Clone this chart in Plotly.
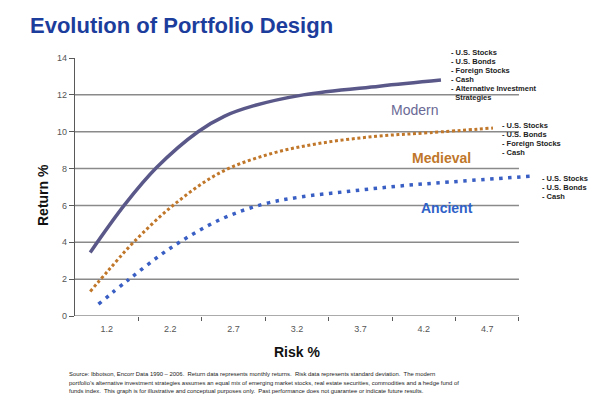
import plotly.graph_objects as go

# ---- data (x in category units: 0 = y-axis, each risk label occupies one unit) ----
risk_labels = ["1.2", "2.2", "2.7", "3.2", "3.7", "4.2", "4.7"]
label_pos = [0.5, 1.5, 2.5, 3.5, 4.5, 5.5, 6.5]
boundaries = [1, 2, 3, 4, 5, 6, 7]
return_ticks = [0, 2, 4, 6, 8, 10, 12, 14]
grid_levels = [2, 4, 6, 8, 10, 12]

modern_x = [0.24, 0.79, 1.29, 1.94, 2.36, 2.81, 3.6, 4.8, 5.77]
modern_y = [3.45, 6.07, 8.07, 10.0, 10.85, 11.4, 12.0, 12.47, 12.8]

medieval_x = [0.24, 0.52, 0.92, 1.57, 2.3, 3.07, 3.86, 4.75, 5.6, 6.59]
medieval_y = [1.33, 2.45, 3.99, 6.07, 7.8, 8.79, 9.37, 9.75, 9.95, 10.2]

ancient_x = [0.37, 0.84, 1.52, 2.3, 2.97, 3.54, 4.33, 5.1, 5.9, 7.17]
ancient_y = [0.64, 1.96, 3.72, 5.25, 6.07, 6.45, 6.77, 7.05, 7.27, 7.58]

modern_assets = ["U.S. Stocks", "U.S. Bonds", "Foreign Stocks", "Cash",
                 "Alternative Investment", "Strategies"]
medieval_assets = ["U.S. Stocks", "U.S. Bonds", "Foreign Stocks", "Cash"]
ancient_assets = ["U.S. Stocks", "U.S. Bonds", "Cash"]

source_lines = [
    "Source: Ibbotson, Encorr Data 1990 \u2013 2006.  Return data represents monthly returns.  Risk data represents standard deviation.  The modern",
    "portfolio\u2019s alternative investment strategies assumes an equal mix of emerging market stocks, real estate securities, commodities and a hedge fund of",
    "funds index.  This graph is for illustrative and conceptual purposes only.  Past performance does not guarantee or indicate future results.",
]

C_MODERN = "#5a5889"
C_MEDIEVAL = "#c0772a"
C_ANCIENT = "#3a5fc4"
FONT = "Liberation Sans, Arial, sans-serif"

W, H = 600, 400
L, R, T, B = 75, 62, 58, 84
X_MAX = 7.3

fig = go.Figure()
fig.add_trace(go.Scatter(x=modern_x, y=modern_y, mode="lines",
                         line=dict(color=C_MODERN, width=3.5, shape="spline", smoothing=1.0),
                         hoverinfo="skip"))
fig.add_trace(go.Scatter(x=medieval_x, y=medieval_y, mode="lines",
                         line=dict(color=C_MEDIEVAL, width=3, dash="3px,2.6px", shape="spline", smoothing=1.0),
                         hoverinfo="skip"))
fig.add_trace(go.Scatter(x=ancient_x, y=ancient_y, mode="lines",
                         line=dict(color=C_ANCIENT, width=3.5, dash="3.5px,5.5px", shape="spline", smoothing=1.0),
                         hoverinfo="skip"))

shapes = []
for g in grid_levels:
    shapes.append(dict(type="line", xref="x", yref="y", x0=0, x1=boundaries[-1], y0=g, y1=g,
                       line=dict(color="#8a8a8a", width=1.5), layer="below"))
shapes.append(dict(type="line", xref="x", yref="y", x0=0, x1=boundaries[-1], y0=0, y1=0,
                   line=dict(color="#595959", width=1.2), layer="below"))


def px2paper(px, py):
    return (px - L) / (W - L - R), (H - B - py) / (H - T - B)


annotations = []


def add_text(text, px, py, size, color, bold=False, xanchor="left", yanchor="middle", angle=0):
    x, y = px2paper(px, py)
    annotations.append(dict(text=("<b>%s</b>" % text) if bold else text, x=x, y=y,
                            xref="paper", yref="paper", xanchor=xanchor, yanchor=yanchor,
                            showarrow=False, textangle=angle,
                            font=dict(family=FONT, size=size, color=color)))


# series names
add_text("Modern", 414, 110, 14, "#6a6995", bold=False, xanchor="center")
add_text("Medieval", 441, 158, 14, C_MEDIEVAL, bold=True, xanchor="center")
add_text("Ancient", 447, 208, 14, "#2f62c8", bold=True, xanchor="center")


def add_block(items, px, py0, step=9.0):
    for i, it in enumerate(items):
        if i > 0 and it == "Strategies":
            add_text("\u00a0\u00a0" + it, px, py0 + i * step, 7.5, "#222222", bold=True)
        else:
            add_text("-\u00a0" + it, px, py0 + i * step, 7.5, "#222222", bold=True)


add_block(modern_assets, 449, 52.5)
add_block(medieval_assets, 500, 125)
add_block(ancient_assets, 540, 178)

# axis titles
add_text("Return %", 43, 195, 14, "#111111", bold=True, xanchor="center", angle=-90)
add_text("Risk %", 297, 352, 14, "#111111", bold=True, xanchor="center")

# source footnote
for i, line in enumerate(source_lines):
    add_text(line, 67, 374 + i * 8.6, 5.9, "#222222")

fig.update_layout(
    width=W, height=H,
    margin=dict(l=L, r=R, t=T, b=B, pad=0),
    paper_bgcolor="white", plot_bgcolor="white",
    showlegend=False,
    title=dict(text="<b>Evolution of Portfolio Design</b>", xref="container", yref="container",
               x=30 / W, y=1 - 25 / H, xanchor="left", yanchor="middle",
               font=dict(family=FONT, size=22, color="#1c3d9c")),
    xaxis=dict(range=[0, X_MAX], showgrid=False, zeroline=False, showline=False,
               tickmode="array", tickvals=label_pos, ticktext=risk_labels,
               ticks="outside", ticklen=4, tickcolor="rgba(0,0,0,0)",
               tickfont=dict(family=FONT, size=9, color="#555555"),
               minor=dict(tickmode="array", tickvals=boundaries, ticks="outside",
                          ticklen=4, tickcolor="#595959", tickwidth=1, showgrid=False),
               fixedrange=True),
    yaxis=dict(range=[0, 14], showgrid=False, zeroline=False, showline=True,
               linecolor="#595959", linewidth=1.2,
               tickmode="array", tickvals=return_ticks,
               ticks="outside", ticklen=5, tickcolor="#595959",
               tickfont=dict(family=FONT, size=9, color="#555555"),
               fixedrange=True),
    shapes=shapes,
    annotations=annotations,
)

fig.write_html("out.html", config={"displayModeBar": False},
               post_script="document.body.style.margin='0';document.body.style.padding='0';")
